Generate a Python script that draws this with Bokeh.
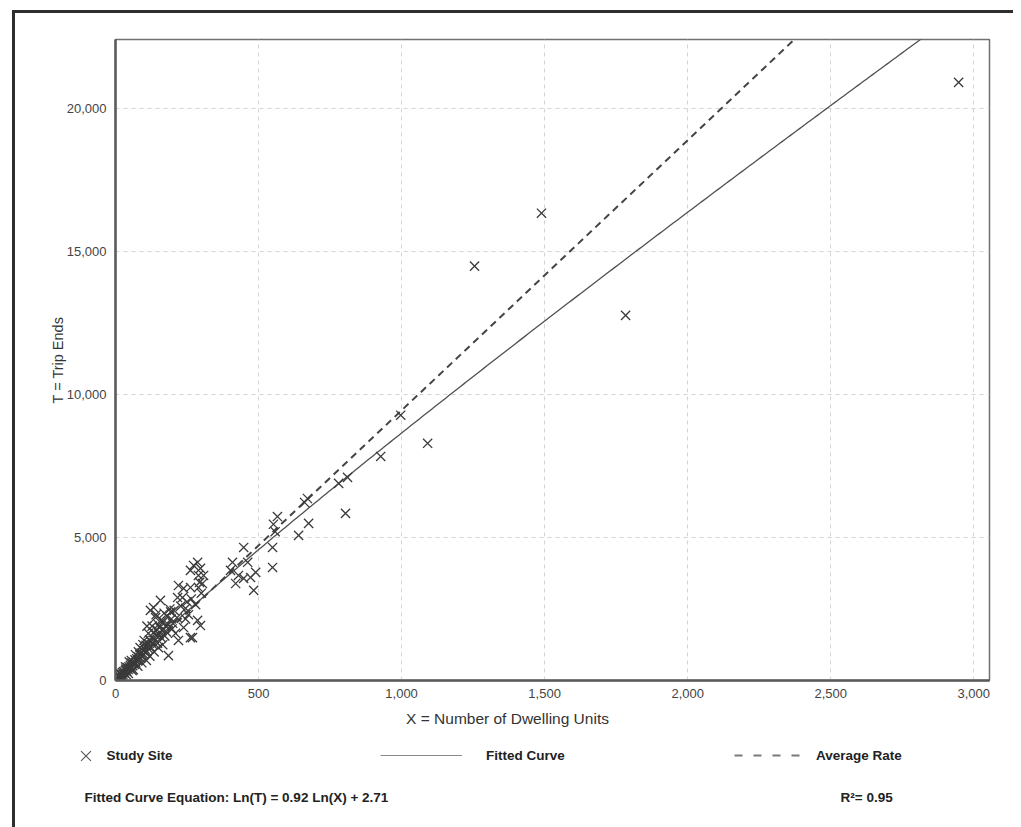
import numpy as np
from bokeh.plotting import figure
from bokeh.layouts import column
from bokeh.models import (Label, Range1d, FixedTicker, NumeralTickFormatter,
                          Legend, LegendItem)
from bokeh.embed import file_html
from bokeh.resources import INLINE

# ---------------- data ----------------
x_ticks = [0, 500, 1000, 1500, 2000, 2500, 3000]
y_ticks = [0, 5000, 10000, 15000, 20000]

# Study sites: number of dwelling units (X) and trip ends (T)
site_du = [
    2947, 1489, 1255, 1783, 997, 1091, 927, 811, 780, 804, 671, 661, 675, 640,
    566, 552, 558, 549, 549, 448, 409, 462, 490, 448, 420, 483, 472, 430, 402,
    287, 297, 308, 294, 304, 262, 238, 290, 217, 245, 234, 287, 297, 238, 269,
    220, 262, 185, 133, 140, 157, 220, 262, 273, 290, 250, 205, 195, 175, 255,
    228, 210, 280, 300, 265, 245, 190, 170, 150, 160, 178, 200, 215, 122, 110,
    3, 6, 9, 11, 14, 16, 19, 21, 24, 26, 29, 31, 34, 36, 39, 41, 44, 47, 49,
    52, 55, 57, 60, 63, 66, 68, 71, 74, 77, 79, 82, 85, 88, 90, 93, 96, 99,
    101, 104, 107, 110, 113, 116, 119, 121, 124, 127, 130, 134, 137, 141, 144,
    147, 152, 155, 163, 167, 172, 180, 185, 193, 198,
    15, 25, 35, 45, 55, 62, 70, 78, 86, 92, 100, 108, 115, 120, 128, 135, 142,
    150, 158, 165, 48, 38, 58, 80, 96,
]
site_trips = [
    20900, 16330, 14480, 12760, 9270, 8290, 7830, 7100, 6890, 5840, 6360, 6220,
    5490, 5070, 5730, 5460, 5200, 4650, 3950, 4650, 4130, 4130, 3780, 3570, 3390,
    3150, 3600, 3670, 3850,
    4130, 3920, 3670, 3430, 3390, 3250, 3220, 3250, 2900, 2520, 2900, 2100, 1920,
    1850, 1500, 1400, 1500, 870, 2550, 2200, 2800, 3320, 3850, 4020, 3670, 2750,
    2450, 2150, 1900, 2300, 2600, 1650, 2650, 3050, 2850, 2150, 2500, 2350, 1950,
    1500, 1700, 2000, 2200, 2450, 1900,
    40, 90, 60, 140, 170, 110, 230, 190, 280, 220, 310, 270, 350, 400, 330, 450,
    390, 480, 420, 530, 470, 610, 520, 640, 560, 720, 620, 760, 680, 830, 730,
    900, 780, 960, 860, 1050, 910, 1120, 980, 1230, 1020, 1300, 1100, 1420, 1180,
    1350, 1520, 1260, 1680, 1400, 1580, 1780, 1300, 1620, 1850, 1750, 2050, 1560,
    2250, 1950, 2400, 1800,
    250, 120, 480, 250, 700, 380, 900, 500, 1150, 620, 1400, 700, 1650, 850,
    1900, 1000, 2300, 1150, 2100, 1250, 650, 200, 350, 1000, 1250,
]

# Fitted curve equation: Ln(T) = 0.92 Ln(X) + 2.71 ; average rate T = 9.44 X
fit_slope = 0.92
fit_const = 2.71
avg_rate = 9.44
x_max = 3055
y_max = 22400

FONT = "Liberation Sans"
BOLD_FONT = "Liberation Sans"

MARK_STYLE = dict(marker="x", size=13, line_color="#3a3a3a", line_width=1.3)
FIT_STYLE = dict(line_color="#505050", line_width=1.3)
AVG_STYLE = dict(line_color="#444444", line_width=2, line_dash="7 5")

# legend symbol styles (drawn lighter in the key)
KEY_MARK = dict(marker="x", size=13, line_color="#555555", line_width=1.1)
KEY_FIT = dict(line_color="#8a8a8a", line_width=1.2)
KEY_AVG = dict(line_color="#7a7a7a", line_width=1.8, line_dash="8 11")

# offsets of the content box on the page (margin + border)
OX, OY = 15, 13
W = 998


def no_align(fig):
    if "frame_align" in fig.properties():
        fig.frame_align = False


# ---------------- main chart ----------------
main_h = 689
p = figure(width=W, height=main_h, output_backend="svg", toolbar_location=None,
           x_range=Range1d(0, x_max), y_range=Range1d(0, y_max),
           min_border_left=115 - OX, min_border_right=OX + W - 989,
           min_border_top=39 - OY, min_border_bottom=OY + main_h - 680)
no_align(p)
p.background_fill_color = "white"
p.border_fill_color = "white"
p.outline_line_color = "#707070"
p.outline_line_width = 1.5

for ax in (p.xaxis[0], p.yaxis[0]):
    ax.major_tick_line_color = None
    ax.minor_tick_line_color = None
    ax.axis_line_color = "#5a5a5a"
    ax.axis_line_width = 2.5
    ax.major_label_text_font = FONT
    ax.major_label_text_font_size = "13px"
    ax.major_label_text_color = "#444444"
    ax.formatter = NumeralTickFormatter(format="0,0")

p.xaxis.ticker = FixedTicker(ticks=x_ticks)
p.yaxis.ticker = FixedTicker(ticks=y_ticks)
p.xaxis.major_label_standoff = 2
p.yaxis.major_label_standoff = 3
p.yaxis.axis_label = "T = Trip Ends"
p.yaxis.axis_label_text_font = FONT
p.yaxis.axis_label_text_font_style = "normal"
p.yaxis.axis_label_text_font_size = "14.5px"
p.yaxis.axis_label_text_color = "#333333"
p.yaxis.axis_label_standoff = -2

p.grid.grid_line_color = "#d4d4d4"
p.grid.grid_line_dash = "4 4"
p.grid.grid_line_width = 1

fx = np.linspace(1, x_max, 300)
p.line(fx, np.exp(fit_const) * fx ** fit_slope, **FIT_STYLE)
p.line([0, x_max], [0, avg_rate * x_max], **AVG_STYLE)
p.scatter(site_du, site_trips, **MARK_STYLE)

# ---------------- bottom panel (axis title, legend, equation) ----------------
top2 = OY + main_h
bot_h = 827 - top2
q = figure(width=W, height=bot_h, output_backend="svg", toolbar_location=None,
           x_range=Range1d(OX, OX + W), y_range=Range1d(827, top2),
           min_border=0, x_axis_type=None, y_axis_type=None)
no_align(q)
q.grid.visible = False
q.outline_line_color = None
q.background_fill_color = "white"
q.border_fill_color = "white"

q.add_layout(Label(x=507, y=718, text="X = Number of Dwelling Units",
                   text_align="center", text_baseline="middle",
                   text_font=FONT, text_font_size="15.5px",
                   text_color="#333333"))

# legend proxies (nothing drawn in the panel itself)
nan = [float("nan")]
r_pts = q.scatter(nan, nan, **KEY_MARK)
r_fit = q.line(nan, nan, **KEY_FIT)
r_avg = q.line(nan, nan, **KEY_AVG)


def make_legend(label, rend, left, bottom, gw, gh, standoff):
    lg = Legend(items=[LegendItem(label=label, renderers=[rend])],
                location=(left - OX, 827 - bottom), glyph_width=gw,
                glyph_height=gh, label_standoff=standoff, padding=0, margin=0,
                spacing=0, border_line_color=None, background_fill_alpha=0,
                label_text_font=BOLD_FONT, label_text_font_style="bold",
                label_text_font_size="13.5px", label_text_color="#222222",
                label_height=gh)
    q.add_layout(lg, "center")


make_legend("Study Site", r_pts, 67.5, 773, 35, 35, 4)
make_legend("Fitted Curve", r_fit, 380, 765, 82, 20, 24)
make_legend("Average Rate", r_avg, 734, 765, 66, 20, 16)

q.add_layout(Label(x=84, y=797,
                   text="Fitted Curve Equation: Ln(T) = 0.92 Ln(X) + 2.71",
                   text_align="left", text_baseline="middle",
                   text_font=BOLD_FONT, text_font_style="bold",
                   text_font_size="13.5px", text_color="#222222"))
q.add_layout(Label(x=840, y=797, text="R\u00b2= 0.95", text_align="left",
                   text_baseline="middle", text_font=BOLD_FONT,
                   text_font_style="bold", text_font_size="13.5px",
                   text_color="#222222"))

layout = column(p, q, spacing=0, margin=(10, 0, 0, 12),
                styles={"border-left": "3px solid #2e2e2e",
                        "border-top": "3px solid #2e2e2e"})

open("out.html", "w").write(file_html(layout, INLINE))
